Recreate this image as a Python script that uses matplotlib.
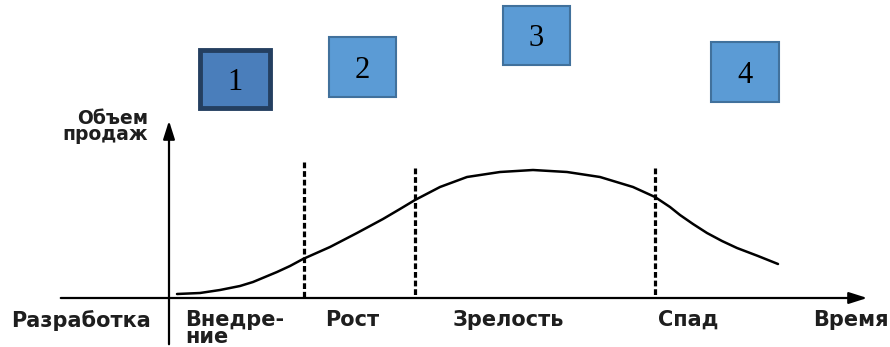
import matplotlib as mtl
mtl.use('Agg')
import matplotlib.pyplot as plt
from matplotlib.patches import Rectangle

# sales curve (pixel-like units, y grows downward)
curve_x = [177, 200, 220, 240, 253, 265, 277, 290, 303, 330, 357, 383, 400, 415, 440, 467,
           500, 533, 567, 600, 633, 655, 670, 680, 693, 707, 722, 737, 758, 778]
curve_y = [294, 293, 290, 286, 282, 277, 272, 266, 259, 247, 233, 219, 209, 200, 187, 177,
           172, 170, 172, 177, 187, 197, 207, 215, 224, 233, 241, 248, 256, 264]

# stage borders
stage_x = [304, 415, 655]
stage_top = [162, 168, 168]

stage_labels = ['Разработка', 'Внедре-\nние', 'Рост', 'Зрелость', 'Спад']
stage_label_x = [11, 185, 325, 453, 658]

box_labels = ['1', '2', '3', '4']
box_x = [200, 329, 503, 711]
box_y = [50, 37, 6, 42]
box_w = [70, 67, 67, 68]
box_h = [58, 60, 59, 60]

fig = plt.figure(figsize=(8.9, 3.47), dpi=100)
ax = fig.add_axes([0, 0, 1, 1])
ax.set_xlim(0, 890)
ax.set_ylim(347, 0)
ax.axis('off')

# axes with arrows
ax.annotate('', xy=(870, 298), xytext=(58, 298),
            arrowprops=dict(arrowstyle='-|>,head_length=1.1,head_width=0.35', color='black', lw=1.6))
ax.annotate('', xy=(169, 118), xytext=(169, 347),
            arrowprops=dict(arrowstyle='-|>,head_length=1.1,head_width=0.35', color='black', lw=1.6))

# curve
ax.plot(curve_x, curve_y, color='black', lw=1.8, solid_capstyle='round', solid_joinstyle='round')

# dashed stage borders
for sx, st in zip(stage_x, stage_top):
    ax.plot([sx, sx], [st, 298], color='black', lw=2.3, ls=(0, (1.8, 0.9)))

font = dict(family='DejaVu Sans', fontweight='bold', fontsize=15, color='#1e1e1e')
for lab, lx in zip(stage_labels, stage_label_x):
    ax.text(lx, 310, lab, ha='left', va='top', linespacing=0.8, **font)
ax.text(889, 310, 'Время', ha='right', va='top', **font)
ax.text(148, 109, 'Объем\nпродаж', ha='right', va='top', linespacing=0.8,
        family='DejaVu Sans', fontweight='bold', fontsize=13.5, color='#1e1e1e')

# numbered boxes
for i, (lab, bx, by, bw, bh) in enumerate(zip(box_labels, box_x, box_y, box_w, box_h)):
    if i == 0:
        r = Rectangle((bx, by), bw, bh, facecolor='#4a7ebb', edgecolor='#243f60', lw=3.5)
    else:
        r = Rectangle((bx, by), bw, bh, facecolor='#5b9bd5', edgecolor='#41719c', lw=1.5)
    ax.add_patch(r)
    ax.text(bx + bw / 2, by + bh / 2 + 3, lab, ha='center', va='center',
            fontsize=22, family='Liberation Serif', color='black')

fig.savefig('out.png', dpi=100)
